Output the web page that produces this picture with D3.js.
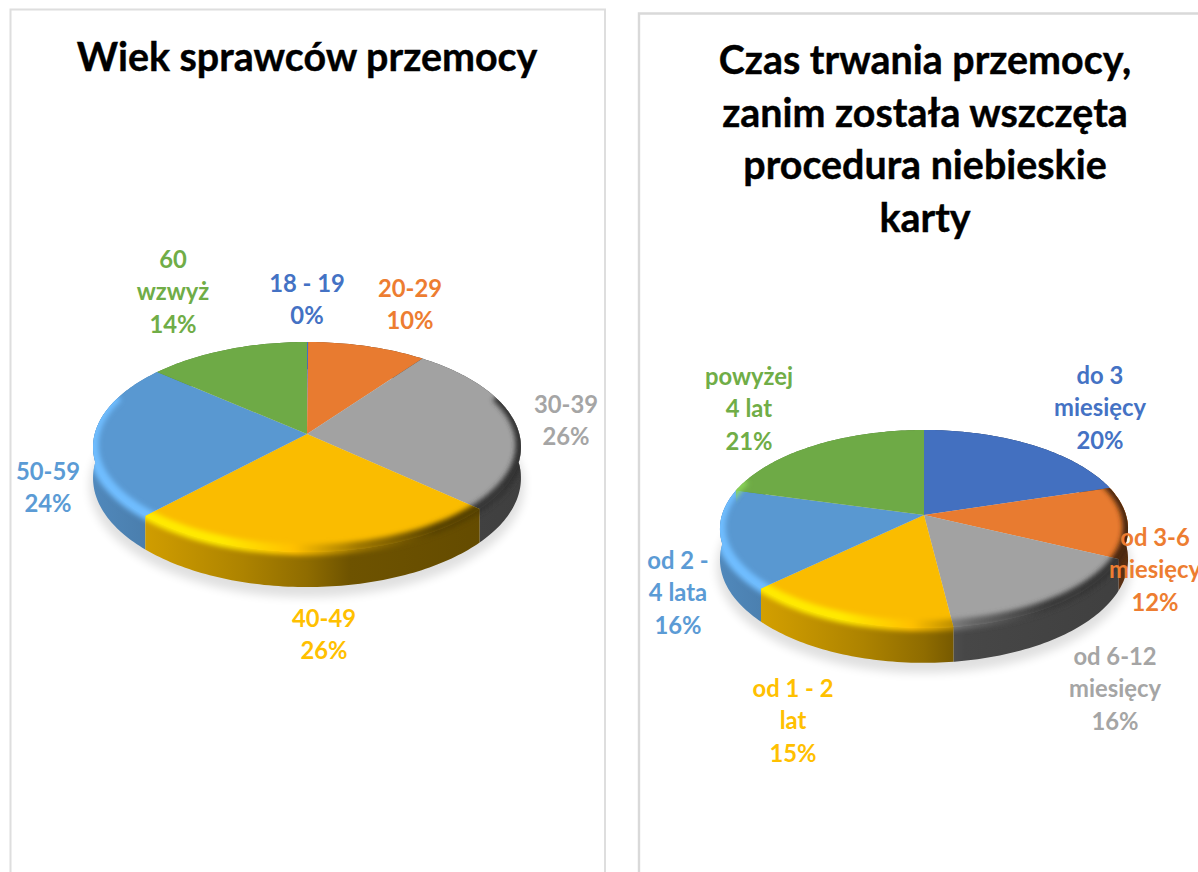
<!DOCTYPE html>
<html><head><meta charset="utf-8">
<script src="https://cdnjs.cloudflare.com/ajax/libs/d3/7.8.5/d3.min.js"></script>
<style>html,body{margin:0;padding:0;background:#fff;overflow:hidden}svg{display:block}text{font-family:Lato,"Open Sans",sans-serif;font-weight:700}</style>
</head><body><script>
const colors = ["#4472C4","#ED7D31","#A5A5A5","#FFC000","#5B9BD5","#70AD47"];
const titleLeft = ["Wiek sprawców przemocy"];
const categoriesLeft = ["18 - 19","20-29","30-39","40-49","50-59","60|wzwyż"];
const valuesLeft = [0.1,10.1,26.4,25.6,24,13.8];
const titleRight = ["Czas trwania przemocy,","zanim została wszczęta","procedura niebieskie","karty"];
const categoriesRight = ["do 3|miesięcy","od 3-6|miesięcy","od 6-12|miesięcy","od 1 - 2|lat","od 2 -|4 lata","powyżej|4 lat"];
const valuesRight = [20.3,11.7,16,15,16.2,20.8];

const labelPosLeft = [[307,283],[410,288],[566,404],[324,618],[48,471],[173,259]];
const labelPosRight = [[1100,375],[1155,537],[1115,656],[793,688],[678,560],[749,376]];
const lineGap = 32.5;

const svg = d3.select("body").append("svg").attr("width",1198).attr("height",872);
const defs = svg.append("defs");
const blur = (id,sd)=>defs.append("filter").attr("id",id).attr("filterUnits","userSpaceOnUse")
  .attr("x",0).attr("y",0).attr("width",1198).attr("height",872)
  .append("feGaussianBlur").attr("stdDeviation",sd);
blur("bevel",2.4); blur("shadow",5);

// panels
svg.append("path").attr("d","M10.5,872V9.5H605V872").attr("fill","none").attr("stroke","#dedede").attr("stroke-width",2);
svg.append("path").attr("d","M639,872V13.5H1198").attr("fill","none").attr("stroke","#d9d9d9").attr("stroke-width",2.4);

function drawPie(name, cats, vals, g, labelPos){
  const proj=(a,r=1,drop=0)=>{const s=Math.sin(a),c=Math.cos(a),w=1+g.k*c*r;
    return [g.ax+g.A*r*s/w, g.ay-g.B*r*c/w+drop/w];};
  const line=d3.line();
  const samples=(a0,a1)=>{const st=0.02,p=d3.range(a0,a1,st);p.push(a1);return p;};
  const arcs=d3.pie().sort(null).value(d=>d)(vals);
  const root=svg.append("g");
  // shadow
  root.append("path").attr("d",line(samples(0,2*Math.PI).map(a=>proj(a,1.015,g.D+7))))
    .attr("fill","#000").attr("opacity",.12).attr("filter","url(#shadow)");
  const gradX=[g.ax-g.R,g.ax+g.R];
  const wallStops=[[0,.88],[.15,.8],[.35,.68],[.5,.56],[.6,.43],[1,.38]];
  arcs.forEach((d,i)=>{
    const c=d3.rgb(colors[i]);
    const mul=f=>d3.rgb(c.r*f,c.g*f,c.b*f).formatHex();
    const wg=defs.append("linearGradient").attr("id",`${name}w${i}`).attr("gradientUnits","userSpaceOnUse")
      .attr("x1",gradX[0]).attr("x2",gradX[1]).attr("y1",0).attr("y2",0);
    wallStops.forEach(s=>wg.append("stop").attr("offset",s[0]).attr("stop-color",mul(s[1])));
    const rg=defs.append("linearGradient").attr("id",`${name}r${i}`).attr("gradientUnits","userSpaceOnUse")
      .attr("x1",gradX[0]).attr("x2",gradX[1]).attr("y1",0).attr("y2",0);
    const hi=c.brighter(.55).formatHex();
    [[0,hi],[.3,hi],[.47,colors[i]],[.62,mul(.62)],[.8,mul(.35)],[1,mul(.3)]]
      .forEach(s=>rg.append("stop").attr("offset",s[0]).attr("stop-color",s[1]));
  });
  const faceColor=i=>{const c=d3.rgb(colors[i]);return d3.rgb(c.r*.98,c.g*.98,c.b*.98).formatHex();};
  const wallPath=d=>{const p=samples(d.startAngle,d.endAngle);
    return line(p.map(a=>proj(a)).concat(p.slice().reverse().map(a=>proj(a,1,g.D))))+"Z";};
  const topPath=d=>line([[g.ax,g.ay]].concat(samples(d.startAngle,d.endAngle).map(a=>proj(a))))+"Z";
  const mid=d=>(d.startAngle+d.endAngle)/2;
  const order=arcs.map((d,i)=>({d,i})).sort((p,q)=>Math.cos(mid(q.d))-Math.cos(mid(p.d)));
  order.forEach(({d,i})=>root.append("path").attr("d",wallPath(d)).attr("fill",`url(#${name}w${i})`));
  arcs.forEach((d,i)=>{
    root.append("path").attr("d",topPath(d)).attr("fill",faceColor(i));
  });
  // bevel along the visible front rim
  const lo=g.bevelFrom, hi=2*Math.PI-g.bevelFrom;
  arcs.forEach((d,i)=>{
    const a0=Math.max(d.startAngle,lo), a1=Math.min(d.endAngle,hi);
    if(a1<=a0) return;
    const cp=defs.append("clipPath").attr("id",`${name}c${i}`);
    cp.append("path").attr("d",topPath(d));
    cp.append("path").attr("d",wallPath(d));
    root.append("g").attr("clip-path",`url(#${name}c${i})`)
      .append("path").attr("d",line(samples(a0-.1,a1+.1).map(a=>proj(a,1,g.bevelDrop))))
      .attr("fill","none").attr("stroke",`url(#${name}r${i})`).attr("stroke-width",g.bevelW)
      .attr("filter","url(#bevel)");
  });
  // data labels
  arcs.forEach((d,i)=>{
    const lines=cats[i].split("|").concat(d3.format(".0f")(d.value)+"%");
    const t=svg.append("text").attr("fill",colors[i]).attr("font-size",23.8).attr("text-anchor","middle");
    lines.forEach((s,j)=>t.append("tspan").attr("x",labelPos[i][0])
      .attr("y",labelPos[i][1]+j*lineGap+8.5).text(s));
  });
}

drawPie("L",categoriesLeft,valuesLeft,{ax:307,ay:434,A:212.3,B:103.4,k:.124,R:214,D:30.7,bevelFrom:1.3,bevelW:11,bevelDrop:-2},labelPosLeft);
drawPie("R",categoriesRight,valuesRight,{ax:924,ay:515,A:202,B:97,k:.141,R:204,D:30,bevelFrom:1.3,bevelW:11,bevelDrop:-2},labelPosRight);

const drawTitle=(lines,x,y,gap,size)=>{const t=svg.append("text").attr("text-anchor","middle").attr("font-size",size).attr("fill","#000")
    .attr("stroke","#000").attr("stroke-width",.4);
  lines.forEach((s,j)=>t.append("tspan").attr("x",x).attr("y",y+j*gap).text(s));};
drawTitle(titleLeft,307,71,0,39.4);
drawTitle(titleRight,925,74,52.7,39.4);
</script></body></html>
